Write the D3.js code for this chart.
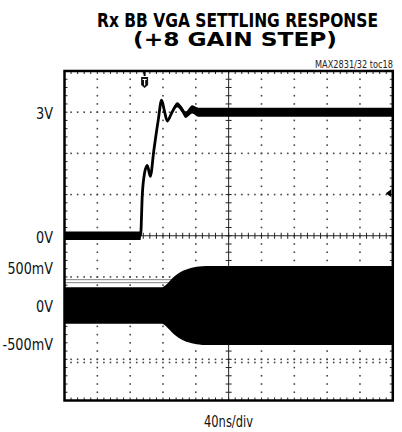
<!DOCTYPE html>
<html><head><meta charset="utf-8">
<script src="https://cdn.jsdelivr.net/npm/d3@7"></script>
<style>
html,body{margin:0;padding:0;background:#fff;}
svg{display:block;}
</style></head>
<body>
<svg id="chart" width="402" height="432"></svg>
<script>
// ---------------- data ----------------
const titleLines = ["Rx BB VGA SETTLING RESPONSE", "(+8 GAIN STEP)"];
const figureId = "MAX2831/32 toc18";
const xAxisLabel = "40ns/div";
const timeDomain = [0, 400];          // ns (40 ns/div, 10 div)
const ch1Domain = [-4, 4];            // V (1 V/div, 8 div)
const ch1Ticks = [3, 0];
const ch1TickLabels = ["3V", "0V"];
const ch2Ticks = [0.5, 0, -0.5];
const ch2TickLabels = ["500mV", "0V", "-500mV"];

// channel 1: VGA step response (V), with trace noise half-width (V)
const ch1Time  = [0, 92.7, 94.8, 97.6, 100.9, 104.5, 108.9, 114.3, 118.3, 121.5, 125.2, 131, 137.4, 142.5, 147.6, 155.7, 163, 400];
const ch1Volt  = [0, 0, 1.0, 1.53, 1.71, 1.44, 2.08, 2.82, 3.29, 3.05, 2.79, 3.0, 3.18, 3.08, 2.94, 3.07, 3.0, 3.0];
const ch1Noise = [0.105, 0.105, 0, 0, 0, 0, 0, 0, 0, 0.02, 0.04, 0.05, 0.06, 0.07, 0.08, 0.1, 0.11, 0.11];

// channel 2: baseband output envelope amplitude (V, +/-)
const ch2Time = [0, 119, 123, 128, 133, 139, 145, 152, 158, 164, 172, 400];
const ch2Amp  = [0.24, 0.24, 0.265, 0.32, 0.375, 0.425, 0.46, 0.488, 0.503, 0.512, 0.52, 0.52];

const triggerTime = 97.6;   // ns
const triggerLevel = 1.03;  // V (ch1)
const ch2Marker = 0.32;     // V (ch2 reference marker)
const ch2LowRef = -0.75;    // V (ch2 dotted reference)

// ---------------- layout ----------------
const L = 64.5, R = 392.8, T = 71, B = 400.5;
const nDivX = 10, nDivY = 8, nMinor = 5;
const fontNarrow = "'Liberation Sans Narrow','Arial Narrow','DejaVu Sans Condensed',sans-serif";

const svg = d3.select("#chart");
const x = d3.scaleLinear().domain(timeDomain).range([L, R]);
const yA = d3.scaleLinear().domain(ch1Domain).range([B, T]);
const yB = d3.scaleLinear().domain([-0.5, 0.5]).range([343.5, 267.5]);
const gx = d3.scaleLinear().domain([0, nDivX]).range([L, R]);
const gy = d3.scaleLinear().domain([0, nDivY]).range([T, B]);

function fitText(sel, w) {
  sel.attr("textLength", w).attr("lengthAdjust", "spacingAndGlyphs");
}

// titles
svg.append("text").attr("x", 237.5).attr("y", 26.5).attr("text-anchor", "middle")
  .style("font-family", fontNarrow).style("font-weight", "bold").style("font-size", "19px")
  .text(titleLines[0]).call(fitText, 281);
svg.append("text").attr("x", 235).attr("y", 45.5).attr("text-anchor", "middle")
  .style("font-family", fontNarrow).style("font-weight", "bold").style("font-size", "19px")
  .text(titleLines[1]).call(fitText, 204);
svg.append("text").attr("x", 393).attr("y", 68).attr("text-anchor", "end")
  .style("font-family", fontNarrow).style("font-size", "10.5px").attr("fill", "#222")
  .text(figureId).call(fitText, 78);

// grid dots
const grid = svg.append("g");
const hDots = [], vDots = [];
for (let j = 1; j < nDivY; j++) {
  if (j === nDivY / 2) continue;
  for (let k = 1; k < nDivX * nMinor; k++) hDots.push([gx(k / nMinor), gy(j)]);
}
for (let i = 1; i < nDivX; i++) {
  if (i === nDivX / 2) continue;
  for (let k = 1; k < nDivY * nMinor; k++) vDots.push([gx(i), gy(k / nMinor)]);
}
for (let k = 1; k < nDivX * nMinor; k++) hDots.push([gx(k / nMinor), yB(ch2LowRef)]);
grid.selectAll("rect.d").data(hDots.concat(vDots)).join("rect")
  .attr("x", d => d[0] - 0.8).attr("y", d => d[1] - 0.8)
  .attr("width", 1.6).attr("height", 1.6).attr("fill", "#444");

// center crosshair
const cx = gx(nDivX / 2), cy = gy(nDivY / 2);
grid.append("line").attr("x1", L).attr("x2", R).attr("y1", cy).attr("y2", cy).attr("stroke", "#222").attr("stroke-width", 1);
grid.append("line").attr("x1", cx).attr("x2", cx).attr("y1", T).attr("y2", B).attr("stroke", "#222").attr("stroke-width", 1);
const ticks = [];
for (let k = 1; k < nDivX * nMinor; k++) {
  const xx = gx(k / nMinor);
  ticks.push([xx, cy - 3, xx, cy + 3]);
  ticks.push([xx, T, xx, T + 3]);
  ticks.push([xx, B, xx, B - 3]);
}
for (let k = 1; k < nDivY * nMinor; k++) {
  const yy = gy(k / nMinor);
  ticks.push([cx - 3, yy, cx + 3, yy]);
  ticks.push([L, yy, L + 3, yy]);
  ticks.push([R, yy, R - 3, yy]);
}
grid.selectAll("line.t").data(ticks).join("line")
  .attr("x1", d => d[0]).attr("y1", d => d[1]).attr("x2", d => d[2]).attr("y2", d => d[3])
  .attr("stroke", "#222").attr("stroke-width", 1);

// ch2 marker (gray double line)
[-1.5, 1.5].forEach(off => {
  svg.append("line").attr("x1", L).attr("x2", R)
    .attr("y1", yB(ch2Marker) + off).attr("y2", yB(ch2Marker) + off)
    .attr("stroke", "#808080").attr("stroke-width", 1);
});

// ch2 envelope
const ch2 = ch2Time.map((t, i) => ({ t, a: ch2Amp[i] }));
svg.append("path").datum(ch2)
  .attr("d", d3.area().x(d => x(d.t)).y0(d => yB(-d.a)).y1(d => yB(d.a)).curve(d3.curveMonotoneX))
  .attr("fill", "#000");

// ch1 trace
const ch1 = ch1Time.map((t, i) => ({ t, v: ch1Volt[i], n: ch1Noise[i] }));
svg.append("path").datum(ch1)
  .attr("d", d3.area().x(d => x(d.t)).y0(d => yA(d.v - d.n)).y1(d => yA(d.v + d.n)).curve(d3.curveMonotoneX))
  .attr("fill", "#000");
svg.append("path").datum(ch1)
  .attr("d", d3.line().x(d => x(d.t)).y(d => yA(d.v)).curve(d3.curveMonotoneX))
  .attr("fill", "none").attr("stroke", "#000").attr("stroke-width", 2.8).attr("stroke-linejoin", "round");

// trigger marker (top)
const tx = x(triggerTime);
svg.append("line").attr("x1", tx).attr("x2", tx).attr("y1", T).attr("y2", T + 5).attr("stroke", "#000").attr("stroke-width", 2);
svg.append("path").attr("d", `M${tx - 3.5},${T + 6} h7 v8 l-3.5,3 l-3.5,-3 z`).attr("fill", "#111");
svg.append("path").attr("d", `M${tx - 2},${T + 8.5} h4 M${tx},${T + 8.5} v6`).attr("stroke", "#fff").attr("stroke-width", 1.2).attr("fill", "none");

// trigger level arrow (right)
const ty = yA(triggerLevel);
svg.append("path").attr("d", `M${R - 7},${ty} L${R - 1.5},${ty - 4} L${R - 1.5},${ty + 4} Z`).attr("fill", "#000");

// frame
svg.append("rect").attr("x", L).attr("y", T).attr("width", R - L).attr("height", B - T)
  .attr("fill", "none").attr("stroke", "#000").attr("stroke-width", 2.5);

// axis labels
const labelWidths = { "3V": 17, "0V": 17, "500mV": 45.5, "-500mV": 50.5 };
const axA = d3.axisLeft(yA).tickValues(ch1Ticks).tickFormat((d, i) => ch1TickLabels[i]).tickSize(0).tickPadding(0);
const axB = d3.axisLeft(yB).tickValues(ch2Ticks).tickFormat((d, i) => ch2TickLabels[i]).tickSize(0).tickPadding(0);
[axA, axB].forEach(ax => {
  const g = svg.append("g").attr("transform", "translate(53,0)").call(ax);
  g.select(".domain").remove();
  g.selectAll("text").attr("dy", "0.42em").attr("fill", "#111")
    .style("font-family", fontNarrow).style("font-size", "15px")
    .each(function () {
      const t = d3.select(this);
      t.attr("textLength", labelWidths[t.text()]).attr("lengthAdjust", "spacingAndGlyphs");
    });
});

svg.append("text").attr("x", 228.5).attr("y", 427).attr("text-anchor", "middle")
  .style("font-family", fontNarrow).style("font-size", "15px").attr("fill", "#111")
  .text(xAxisLabel).call(fitText, 49);
</script>
</body></html>
